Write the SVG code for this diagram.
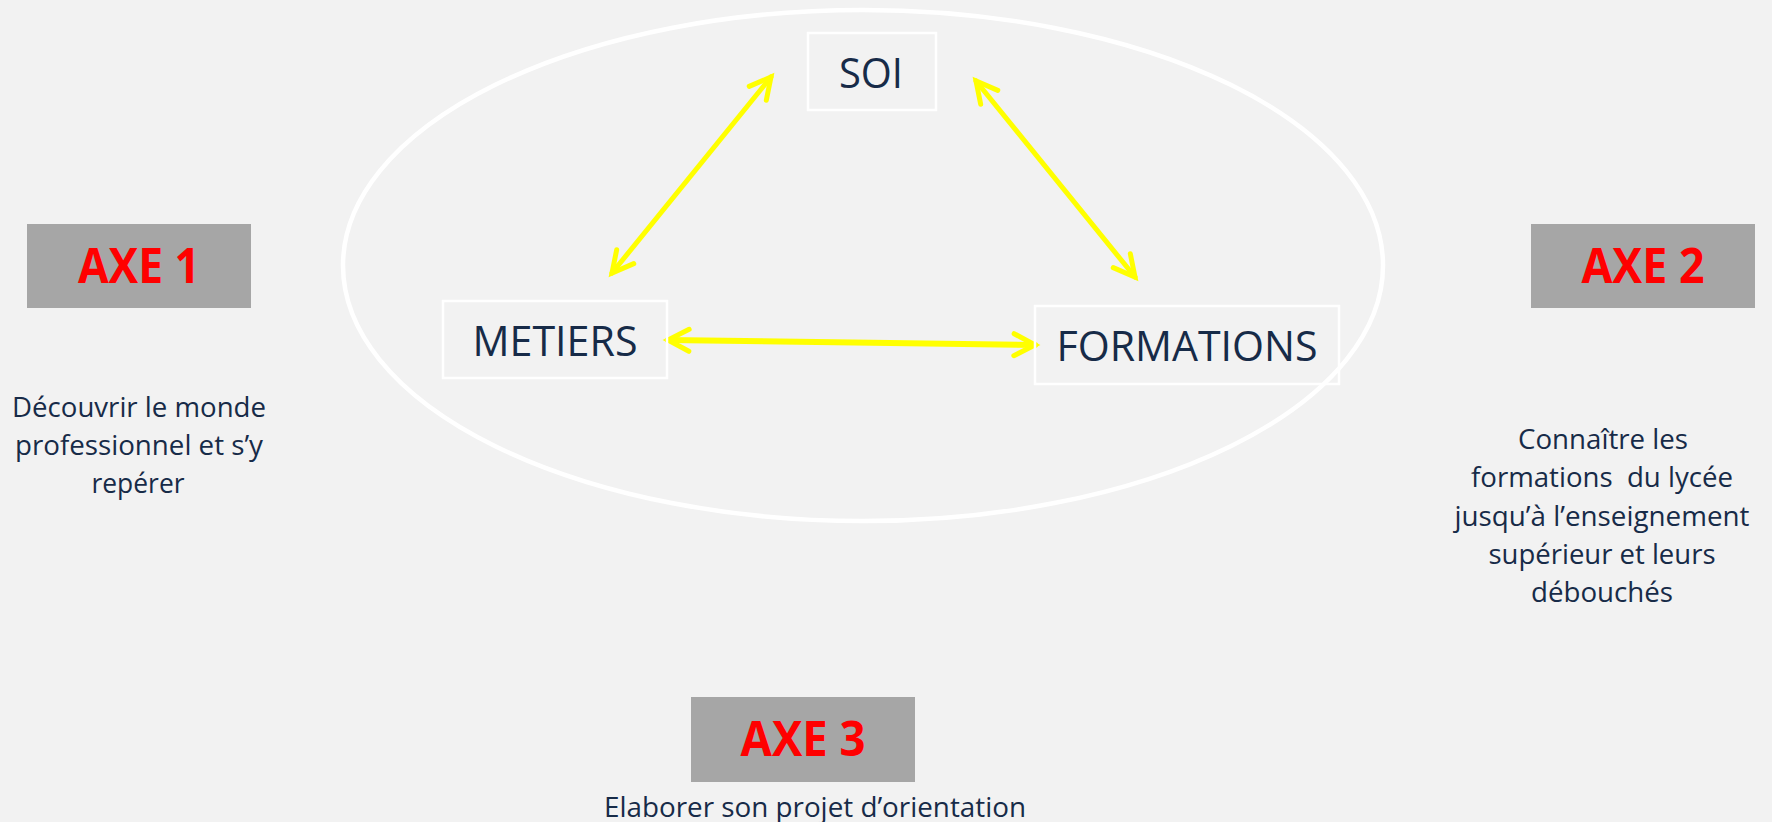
<svg xmlns="http://www.w3.org/2000/svg" width="1772" height="822" viewBox="0 0 1772 822">
  <style>
    .node { fill: none; stroke: #FFFFFF; stroke-width: 2.5; }
    .axe { fill: #A6A6A6; }
    .lbl { font-family: "Open Sans", "Noto Sans", "Liberation Sans", sans-serif; font-size: 42px; fill: #172B48; text-anchor: middle; }
    .axet { font-family: "Open Sans", "Noto Sans", "Liberation Sans", sans-serif; font-size: 48px; font-weight: bold; fill: #FF0000; text-anchor: middle; }
    .desc { font-family: "Open Sans", "Noto Sans", "Liberation Sans", sans-serif; font-size: 27px; fill: #172B48; text-anchor: middle; }
    .conn { stroke: #FFFF00; stroke-width: 5; fill: none; stroke-linecap: round; marker-start: url(#ah); marker-end: url(#ah); }
    .thick { stroke-width: 6; }
  </style>
  <defs>
    <marker id="ah" markerUnits="userSpaceOnUse" markerWidth="50" markerHeight="50" viewBox="-30 -25 50 50" refX="0" refY="0" orient="auto-start-reverse" overflow="visible">
      <path d="M -21 -11 L 0 0 L -21 11" fill="none" stroke="#FFFF00" stroke-width="5" stroke-linecap="round" stroke-linejoin="miter"/>
    </marker>
  </defs>
  <rect x="0" y="0" width="1772" height="822" fill="#F2F2F2"/>

  <g id="ellipse">
    <ellipse cx="863" cy="265.5" rx="520" ry="255.5" fill="none" stroke="#FFFFFF" stroke-width="4.5"/>
  </g>

  <g id="connectors">
    <line class="conn" x1="612" y1="273" x2="771" y2="77"/>
    <line class="conn" x1="976" y1="81" x2="1135" y2="277"/>
    <line class="conn thick" x1="668" y1="340" x2="1035" y2="345"/>
  </g>

  <g id="soi">
    <rect class="node" x="808" y="33" width="128" height="77"/>
    <text class="lbl" x="871" y="88" textLength="64" lengthAdjust="spacingAndGlyphs">SOI</text>
  </g>
  <g id="metiers">
    <rect class="node" x="443" y="301" width="224" height="77"/>
    <text class="lbl" x="555" y="356" textLength="165" lengthAdjust="spacingAndGlyphs">METIERS</text>
  </g>
  <g id="formations">
    <rect class="node" x="1035" y="306" width="304" height="78"/>
    <text class="lbl" x="1187" y="361" textLength="261" lengthAdjust="spacingAndGlyphs">FORMATIONS</text>
  </g>

  <g id="axe1">
    <rect class="axe" x="27" y="224" width="224" height="84"/>
    <text class="axet" x="139" y="283" textLength="122" lengthAdjust="spacingAndGlyphs">AXE 1</text>
    <text class="desc" x="139" y="417" textLength="254" lengthAdjust="spacingAndGlyphs">Découvrir le monde</text>
    <text class="desc" x="139" y="455" textLength="248" lengthAdjust="spacingAndGlyphs">professionnel et s’y</text>
    <text class="desc" x="138" y="493" textLength="93" lengthAdjust="spacingAndGlyphs">repérer</text>
  </g>

  <g id="axe2">
    <rect class="axe" x="1531" y="224" width="224" height="84"/>
    <text class="axet" x="1643" y="283" textLength="123" lengthAdjust="spacingAndGlyphs">AXE 2</text>
    <text class="desc" x="1603" y="449" textLength="170" lengthAdjust="spacingAndGlyphs">Connaître les</text>
    <text class="desc" x="1602" y="487" textLength="262" lengthAdjust="spacingAndGlyphs" xml:space="preserve">formations  du lycée</text>
    <text class="desc" x="1602" y="526" textLength="295" lengthAdjust="spacingAndGlyphs">jusqu’à l’enseignement</text>
    <text class="desc" x="1602" y="564" textLength="227" lengthAdjust="spacingAndGlyphs">supérieur et leurs</text>
    <text class="desc" x="1602" y="602" textLength="142" lengthAdjust="spacingAndGlyphs">débouchés</text>
  </g>

  <g id="axe3">
    <rect class="axe" x="691" y="697" width="224" height="85"/>
    <text class="axet" x="803" y="756" textLength="125" lengthAdjust="spacingAndGlyphs">AXE 3</text>
    <text class="desc" x="815" y="817" textLength="422" lengthAdjust="spacingAndGlyphs">Elaborer son projet d’orientation</text>
  </g>
</svg>
